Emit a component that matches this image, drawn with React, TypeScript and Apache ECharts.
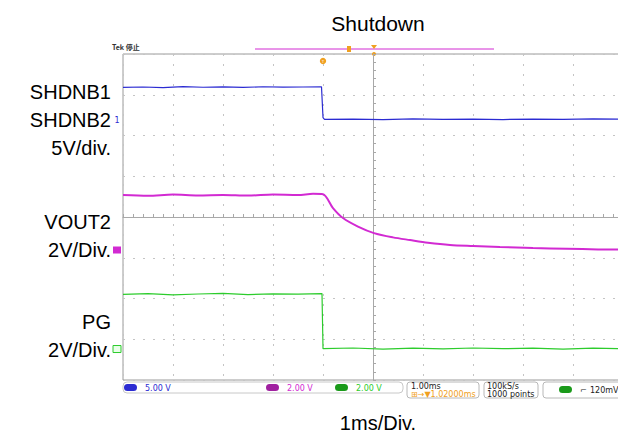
import React, { useEffect, useRef } from "react";
import * as echarts from "echarts";

// time in ms across 10 divisions (1 ms/div)
const timeRange = [0, 10];
// channel settings: volts/div and ground offset (divisions above screen centre)
const ch1Scale = 5;
const ch1Offset = 2.38;
const ch3Scale = 2;
const ch3Offset = -0.81;
const ch4Scale = 2;
const ch4Offset = -3.24;

// SHDNB1/SHDNB2 (ch1, V)
const shdnData: [number, number][] = [
  [0, 4.0], [0.4, 4.05], [0.8, 3.98], [1.2, 4.1], [1.6, 4.02], [2.0, 4.06], [2.4, 4.0],
  [2.8, 4.08], [3.2, 4.03], [3.6, 4.05], [3.97, 4.08], [4.0, 0.3], [4.03, 0.08],
  [4.6, 0.12], [5.2, 0.06], [5.8, 0.14], [6.4, 0.08], [7.0, 0.12], [7.6, 0.06],
  [8.2, 0.12], [8.8, 0.08], [9.4, 0.13], [10, 0.1],
];
// VOUT2 (ch3, V)
const voutData: [number, number][] = [
  [0, 2.7], [0.5, 2.66], [1.0, 2.72], [1.5, 2.68], [2.0, 2.7], [2.5, 2.67], [3.0, 2.72],
  [3.5, 2.7], [3.8, 2.76], [4.0, 2.74], [4.2, 2.06], [4.4, 1.57], [4.7, 1.15],
  [5.02, 0.83], [5.4, 0.62], [5.74, 0.49], [6.1, 0.36], [6.54, 0.25], [7.0, 0.2],
  [7.54, 0.15], [8.2, 0.1], [8.88, 0.06], [9.5, 0.03], [10, 0.02],
];
// PG (ch4, V)
const pgData: [number, number][] = [
  [0, 2.68], [0.5, 2.72], [1.0, 2.66], [1.5, 2.7], [2.0, 2.73], [2.5, 2.67], [3.0, 2.71],
  [3.5, 2.69], [3.98, 2.72], [4.0, 0.02], [4.6, 0.05], [5.2, 0.0], [5.8, 0.04],
  [6.4, 0.01], [7.0, 0.05], [7.6, 0.02], [8.2, 0.04], [8.8, 0.0], [9.4, 0.04], [10, 0.02],
];

const leftLabels = [
  { text: "SHDNB1", y: 92 },
  { text: "SHDNB2", y: 120 },
  { text: "5V/div.", y: 148 },
  { text: "VOUT2", y: 222 },
  { text: "2V/Div.", y: 250 },
  { text: "PG", y: 322 },
  { text: "2V/Div.", y: 350 },
];

const BLUE = "#2b2bd2";
const MAG = "#d22ad2";
const GRN = "#2ccc2c";
const ORANGE = "#f0a020";
const GRID = { left: 123, top: 54, width: 500, height: 326 };
const FONT = "Arial, 'Liberation Sans', sans-serif";

function chRange(scale: number, offset: number) {
  return { min: (-4 - offset) * scale, max: (4 - offset) * scale };
}

export default function App() {
  const ref = useRef<HTMLDivElement>(null);
  useEffect(() => {
    if (!ref.current) return;
    const chart = echarts.init(ref.current, undefined, { renderer: "svg" });
    const divLine = { color: "#c4c4c4", type: [2, 8] as any, width: 1 };
    const hiddenY = (scale: number, offset: number) => ({
      type: "value" as const,
      ...chRange(scale, offset),
      show: false,
      splitLine: { show: false },
    });
    const groundY = (offset: number) => GRID.top + GRID.height / 2 - offset * (GRID.height / 8);
    const small = { fontFamily: "DejaVu Sans, sans-serif", fontSize: 8 };

    const option: any = {
      animation: false,
      backgroundColor: "#ffffff",
      grid: { ...GRID, show: true, borderColor: "#9a9a9a", borderWidth: 1, backgroundColor: "transparent" },
      title: [
        {
          text: "Shutdown",
          left: 373,
          top: 8,
          textAlign: "center",
          textStyle: { fontFamily: FONT, fontSize: 21, fontWeight: "normal", color: "#000" },
        },
        {
          text: "1ms/Div.",
          left: 373,
          top: 408,
          textAlign: "center",
          textStyle: { fontFamily: FONT, fontSize: 20, fontWeight: "normal", color: "#000" },
        },
      ],
      xAxis: [
        {
          type: "value",
          min: -5,
          max: 5,
          interval: 1,
          axisLine: { show: true, onZero: true, lineStyle: { color: "#a8a8a8" } },
          axisTick: { show: true, inside: true, length: 3, lineStyle: { color: "#a8a8a8" } },
          minorTick: { show: true, splitNumber: 5, length: 3, lineStyle: { color: "#a8a8a8" } },
          axisLabel: { show: false },
          splitLine: { show: true, lineStyle: divLine },
        },
        { type: "value", min: timeRange[0], max: timeRange[1], show: false, splitLine: { show: false } },
      ],
      yAxis: [
        {
          type: "value",
          min: -4,
          max: 4,
          interval: 1,
          axisLine: { show: true, onZero: true, lineStyle: { color: "#a8a8a8" } },
          axisTick: { show: true, inside: true, length: 3, lineStyle: { color: "#a8a8a8" } },
          minorTick: { show: true, splitNumber: 5, length: 3, lineStyle: { color: "#a8a8a8" } },
          axisLabel: { show: false },
          splitLine: { show: true, lineStyle: divLine },
        },
        hiddenY(ch1Scale, ch1Offset),
        hiddenY(ch3Scale, ch3Offset),
        hiddenY(ch4Scale, ch4Offset),
      ],
      series: [
        {
          type: "line", xAxisIndex: 1, yAxisIndex: 1, data: shdnData, showSymbol: false,
          lineStyle: { color: BLUE, width: 1.2 }, silent: true,
        },
        {
          type: "line", xAxisIndex: 1, yAxisIndex: 2, data: voutData, showSymbol: false, smooth: 0.3,
          lineStyle: { color: MAG, width: 2 }, silent: true,
        },
        {
          type: "line", xAxisIndex: 1, yAxisIndex: 3, data: pgData, showSymbol: false,
          lineStyle: { color: GRN, width: 1.2 }, silent: true,
        },
      ],
      graphic: [
        ...leftLabels.map((l) => ({
          type: "text",
          x: 111,
          y: l.y,
          style: { text: l.text, fontFamily: FONT, fontSize: 20, fill: "#000", align: "right", verticalAlign: "middle" },
        })),
        // top status
        { type: "text", x: 112, y: 47, style: { text: "Tek 停止", fontFamily: "Noto Sans CJK SC, sans-serif", fontSize: 7, fontWeight: "bold", fill: "#333", verticalAlign: "middle" } },
        { type: "line", shape: { x1: 255, y1: 49, x2: 494, y2: 49 }, style: { stroke: MAG, lineWidth: 1 } },
        { type: "rect", shape: { x: 347, y: 46, width: 4, height: 6 }, style: { fill: ORANGE } },
        { type: "polygon", shape: { points: [[371, 45], [377, 45], [374, 49]] }, style: { fill: ORANGE } },
        { type: "circle", shape: { cx: 374, cy: 54, r: 2 }, style: { fill: ORANGE } },
        { type: "circle", shape: { cx: 323, cy: 61, r: 3.2 }, style: { fill: ORANGE } },
        { type: "text", x: 323, y: 61, style: { text: "T", fontSize: 4, fill: "#fff", align: "center", verticalAlign: "middle" } },
        // ground markers
        { type: "text", x: 117, y: groundY(ch1Offset), style: { text: "1", ...small, fill: BLUE, align: "center", verticalAlign: "middle" } },
        { type: "rect", shape: { x: 113, y: groundY(ch3Offset) - 3.5, width: 8, height: 7 }, style: { fill: MAG } },
        { type: "rect", shape: { x: 113, y: groundY(ch4Offset) - 3.5, width: 8, height: 7 }, style: { fill: "#e8ffe8", stroke: GRN, lineWidth: 1 } },
        // bottom info bar
        { type: "rect", shape: { x: 123, y: 382, width: 280, height: 11, r: 4 }, style: { fill: "#fff", stroke: "#c8c8c8", lineWidth: 1 } },
        { type: "rect", shape: { x: 124, y: 384, width: 13, height: 7, r: 3.5 }, style: { fill: BLUE } },
        { type: "text", x: 145, y: 388, style: { text: "5.00 V", ...small, fill: BLUE, verticalAlign: "middle" } },
        { type: "rect", shape: { x: 266, y: 384, width: 13, height: 7, r: 3.5 }, style: { fill: "#a020a0" } },
        { type: "text", x: 287, y: 388, style: { text: "2.00 V", ...small, fill: MAG, verticalAlign: "middle" } },
        { type: "rect", shape: { x: 335, y: 384, width: 13, height: 7, r: 3.5 }, style: { fill: "#1a9a1a" } },
        { type: "text", x: 356, y: 388, style: { text: "2.00 V", ...small, fill: GRN, verticalAlign: "middle" } },
        { type: "rect", shape: { x: 407, y: 382, width: 72, height: 16, r: 3 }, style: { fill: "#fff", stroke: "#b8b8b8", lineWidth: 1 } },
        { type: "text", x: 411, y: 386, style: { text: "1.00ms", ...small, fill: "#222", verticalAlign: "middle" } },
        { type: "text", x: 411, y: 394, style: { text: "⊞→▼1.02000ms", ...small, fill: ORANGE, verticalAlign: "middle" } },
        { type: "rect", shape: { x: 484, y: 382, width: 54, height: 16, r: 3 }, style: { fill: "#fff", stroke: "#b8b8b8", lineWidth: 1 } },
        { type: "text", x: 487, y: 386, style: { text: "100kS/s", ...small, fill: "#222", verticalAlign: "middle" } },
        { type: "text", x: 487, y: 394, style: { text: "1000 points", ...small, fill: "#222", verticalAlign: "middle" } },
        { type: "rect", shape: { x: 543, y: 382, width: 82, height: 16, r: 3 }, style: { fill: "#fff", stroke: "#b8b8b8", lineWidth: 1 } },
        { type: "rect", shape: { x: 559, y: 386, width: 13, height: 7, r: 3.5 }, style: { fill: "#1a9a1a" } },
        { type: "text", x: 580, y: 390, style: { text: "⌐", ...small, fill: "#222", verticalAlign: "middle" } },
        { type: "text", x: 590, y: 390, style: { text: "120mV", ...small, fill: "#222", verticalAlign: "middle" } },
      ],
    };
    chart.setOption(option);
    return () => chart.dispose();
  }, []);
  return <div ref={ref} style={{ width: 626, height: 439, margin: -8 }} />;
}
